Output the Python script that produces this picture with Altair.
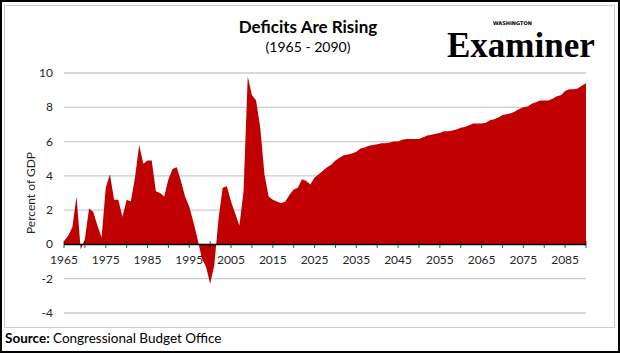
import altair as alt
import pandas as pd

# ---- data ----
start_year = 1965
deficit = [
    0.2, 0.5, 1.0, 2.8, -0.3, 0.3, 2.1, 1.9, 1.1, 0.4,        # 1965-1974
    3.3, 4.1, 2.6, 2.6, 1.6, 2.6, 2.5, 3.9, 5.8, 4.7,         # 1975-1984
    4.9, 4.9, 3.1, 3.0, 2.8, 3.8, 4.4, 4.5, 3.7, 2.8,         # 1985-1994
    2.2, 1.3, 0.3, -0.8, -1.3, -2.3, -1.2, 1.5, 3.3, 3.4,     # 1995-2004
    2.5, 1.8, 1.1, 3.1, 9.8, 8.7, 8.4, 6.8, 4.1, 2.8,         # 2005-2014
    2.6, 2.5, 2.4, 2.5, 2.9, 3.2, 3.3, 3.8, 3.7, 3.5,         # 2015-2024
    3.9, 4.1, 4.3, 4.5, 4.65, 4.9, 5.05, 5.2, 5.25, 5.3,      # 2025-2034
    5.4, 5.6, 5.65, 5.75, 5.8, 5.85, 5.9, 5.9, 5.95, 6.0,     # 2035-2044
    6.0, 6.1, 6.15, 6.15, 6.15, 6.15, 6.25, 6.35, 6.4, 6.45,  # 2045-2054
    6.5, 6.6, 6.6, 6.65, 6.7, 6.8, 6.85, 6.95, 7.05, 7.05,    # 2055-2064
    7.05, 7.1, 7.25, 7.3, 7.4, 7.55, 7.6, 7.65, 7.75, 7.9,    # 2065-2074
    8.0, 8.05, 8.2, 8.3, 8.4, 8.4, 8.4, 8.5, 8.65, 8.7,       # 2075-2084
    8.95, 9.05, 9.05, 9.1, 9.25, 9.4,                         # 2085-2090
]
years = [start_year + i for i in range(len(deficit))]

tick_years = [1965, 1970, 1975, 1980, 1985, 1990, 1995, 2000, 2005, 2010,
              2015, 2020, 2025, 2030, 2035, 2040, 2045, 2050, 2055, 2060,
              2065, 2070, 2075, 2080, 2085, 2090]
label_years = [1965, 1975, 1985, 1995, 2005, 2015, 2025, 2035, 2045, 2055,
               2065, 2075, 2085]
y_ticks = [-4, -2, 0, 2, 4, 6, 8, 10]
y_labels = ["-4", "-2", "0", "2", "4", "6", "8", "10"]

title_text = "Deficits Are Rising"
subtitle_text = "(1965 - 2090)"
y_title = "Percent of GDP"
source_bold = "Source:"
source_rest = "Congressional Budget Office"

FONT = "Lato"
RED = "#C00000"
LABEL = "#262626"
GRID = "#cccccc"

df = pd.DataFrame({"year": years, "deficit": deficit})
ticks_df = pd.DataFrame({"year": tick_years, "zero": [0] * len(tick_years)})
labels_df = pd.DataFrame({"year": label_years, "zero": [0] * len(label_years),
                          "label": [str(y) for y in label_years]})
grid_df = pd.DataFrame({"v": y_ticks, "label": y_labels})
base_df = pd.DataFrame({"zero": [0]})

xscale = alt.Scale(domain=[1965, 2090], nice=False, zero=False)
yscale = alt.Scale(domain=[-4, 10], nice=False)

W, H = 522, 240
ox, oy = 64, 73   # page position of plot origin

# gridlines drawn as thin filled horizontal ticks spanning the plot width
grid = alt.Chart(grid_df).mark_tick(orient="horizontal", size=W, thickness=1.3,
                                    color=GRID, opacity=1).encode(
    y=alt.Y("v:Q", scale=yscale, axis=None),
    x=alt.value(W / 2),
)

ylabels = alt.Chart(grid_df).mark_text(font=FONT, fontSize=12, color=LABEL, align="right",
                                       baseline="middle").encode(
    y=alt.Y("v:Q", scale=yscale, axis=None), x=alt.value(-11), text="label:N"
)

area = alt.Chart(df).mark_area(color=RED, opacity=1, interpolate="linear").encode(
    x=alt.X("year:Q", scale=xscale, axis=None),
    y=alt.Y("deficit:Q", scale=yscale, axis=None),
)

axis_line = alt.Chart(base_df).mark_rule(color="black", strokeWidth=1.5).encode(
    y=alt.Y("zero:Q", scale=yscale, axis=None), x=alt.value(0), x2=alt.value(W)
)

ticks = alt.Chart(ticks_df).mark_tick(orient="vertical", size=7, thickness=1, color="black").encode(
    x=alt.X("year:Q", scale=xscale, axis=None), y=alt.Y("zero:Q", scale=yscale, axis=None)
)

xlabels = alt.Chart(labels_df).mark_text(font=FONT, fontSize=12, color=LABEL, dy=16,
                                         baseline="middle").encode(
    x=alt.X("year:Q", scale=xscale, axis=None), y=alt.Y("zero:Q", scale=yscale, axis=None),
    text="label:N"
)


def txt(text, x, y, **kw):
    return alt.Chart(pd.DataFrame({"t": [text]})).mark_text(**kw).encode(
        x=alt.value(x - ox), y=alt.value(y - oy), text="t:N")


def frame_bar(x1, y1, x2, y2, color):
    return alt.Chart(pd.DataFrame({"a": [0]})).mark_rect(color=color, opacity=1).encode(
        x=alt.value(x1 - ox), x2=alt.value(x2 - ox), y=alt.value(y1 - oy), y2=alt.value(y2 - oy))


title = txt(title_text, 308, 28, font=FONT, fontSize=17, fontWeight="bold",
            color="black", align="center", baseline="middle")
subtitle = txt(subtitle_text, 308, 48, font=FONT, fontSize=14,
               color="black", align="center", baseline="middle")
ytitle = txt(y_title, 31, 193, font=FONT, fontSize=12, color=LABEL,
             angle=270, align="center", baseline="middle")
src1 = txt(source_bold, 5, 339, font=FONT, fontSize=13.5, fontWeight="bold",
           color="black", align="left", baseline="middle")
src2 = txt(source_rest, 53, 339, font=FONT, fontSize=13.5,
           color="black", align="left", baseline="middle")
logo_small = txt("WASHINGTON", 493, 23, font="DejaVu Sans", fontSize=5,
                 fontWeight="bold", color="black", align="left", baseline="middle")
logo = txt("Examiner", 447, 57, font="Liberation Serif", fontSize=35,
           fontWeight="bold", color="black", align="left", baseline="alphabetic")

# light gray inner frame (four thin bars)
in_top = frame_bar(4, 5, 615, 6, GRID)
in_bot = frame_bar(4, 327, 615, 328, GRID)
in_left = frame_bar(4, 5, 5, 328, GRID)
in_right = frame_bar(614, 5, 615, 328, GRID)
# black outer frame
out_top = frame_bar(0, 0, 620, 2, "black")
out_bot = frame_bar(0, 351, 620, 353, "black")
out_left = frame_bar(0, 0, 2, 353, "black")
out_right = frame_bar(618, 0, 620, 353, "black")

chart = alt.layer(
    grid, ylabels, area, axis_line, ticks, xlabels,
    title, subtitle, ytitle, src1, src2, logo_small, logo,
    in_top, in_bot, in_left, in_right, out_top, out_bot, out_left, out_right
).properties(
    width=W, height=H,
    autosize=alt.AutoSizeParams(type="none"),
    padding={"left": ox, "top": oy, "right": 620 - ox - W, "bottom": 353 - oy - H},
    background="white",
).configure_view(stroke=None)

chart.save("out.html", embed_options={"renderer": "svg", "actions": False})
